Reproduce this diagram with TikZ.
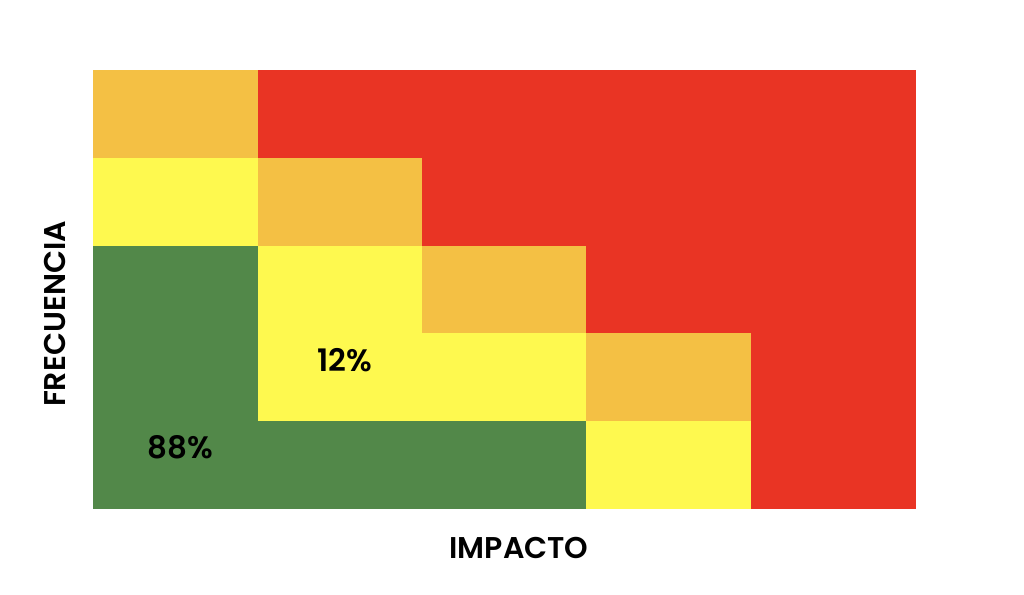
\documentclass[tikz,border=0pt]{standalone}
\usepackage{fontspec}
\setmainfont{Poppins}[BoldFont={Poppins SemiBold}]
\usepackage{xcolor}

\definecolor{riskred}{HTML}{E93424}
\definecolor{riskorange}{HTML}{F4C044}
\definecolor{riskyellow}{HTML}{FEF94F}
\definecolor{riskgreen}{HTML}{528849}

\begin{document}
\begin{tikzpicture}[x=0.5pt,y=-0.5pt]
\useasboundingbox (0,0) rectangle (1024,595);
% Row 1
\fill[riskorange] (93,70) rectangle (258,158);
\fill[riskred] (258,70) rectangle (916,158);
% Row 2
\fill[riskyellow] (93,158) rectangle (258,246);
\fill[riskorange] (258,158) rectangle (422,246);
\fill[riskred] (422,158) rectangle (916,246);
% Row 3
\fill[riskgreen] (93,246) rectangle (258,333);
\fill[riskyellow] (258,246) rectangle (422,333);
\fill[riskorange] (422,246) rectangle (586,333);
\fill[riskred] (586,246) rectangle (916,333);
% Row 4
\fill[riskgreen] (93,333) rectangle (258,421);
\fill[riskyellow] (258,333) rectangle (586,421);
\fill[riskorange] (586,333) rectangle (751,421);
\fill[riskred] (751,333) rectangle (916,421);
% Row 5
\fill[riskgreen] (93,421) rectangle (586,509);
\fill[riskyellow] (586,421) rectangle (751,509);
\fill[riskred] (751,421) rectangle (916,509);
% Labels
\node[font=\fontsize{15.5}{18}\selectfont\bfseries] (low) at (345,360) {12\%};
\node[font=\fontsize{15.5}{18}\selectfont\bfseries] (none) at (180,447) {88\%};
\node[font=\fontsize{15}{18}\selectfont\bfseries] (xlab) at (519,548) {IMPACTO};
\node[font=\fontsize{15}{18}\selectfont\bfseries, rotate=90] (ylab) at (55,314) {FRECUENCIA};
\end{tikzpicture}
\end{document}
